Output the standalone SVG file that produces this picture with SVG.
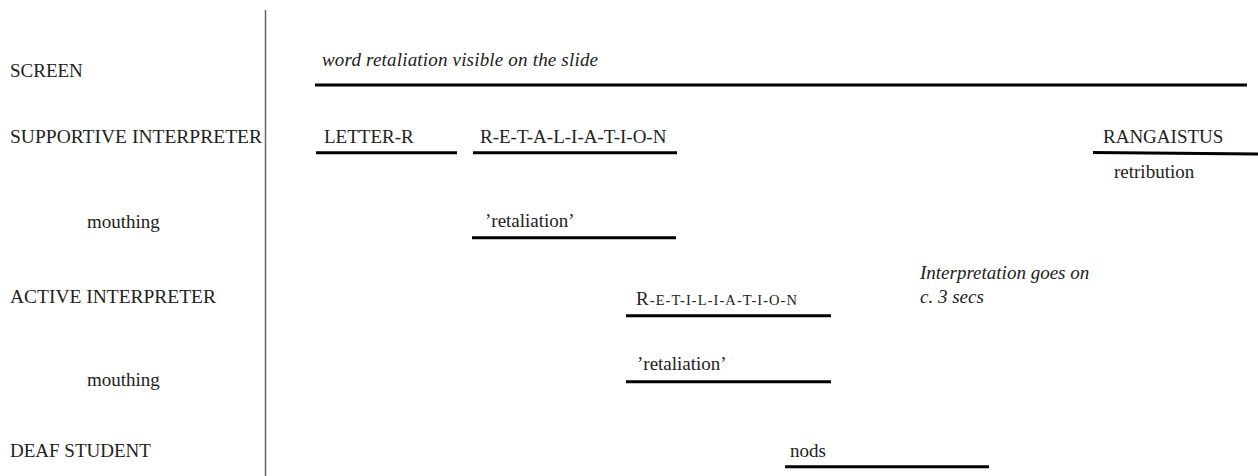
<svg xmlns="http://www.w3.org/2000/svg" width="1258" height="476" viewBox="0 0 1258 476">
<style>
.t{font-family:'Liberation Serif','Times New Roman','DejaVu Serif',serif;font-size:19px;fill:#222;}
.it{font-style:italic;}
.bar{stroke:#000;stroke-width:3;fill:none;}
.divider{stroke:#666;stroke-width:1.5;fill:none;}
</style>
<rect width="1258" height="476" fill="#fff"/>
<line class="divider" x1="265.5" y1="10" x2="265.5" y2="476"/>
<g font-family="Liberation Serif, Times New Roman, serif" font-size="19" fill="#222">
<g id="row-labels">
<text class="t" x="10" y="77">SCREEN</text>
<text class="t" x="10" y="143" textLength="252" lengthAdjust="spacingAndGlyphs">SUPPORTIVE INTERPRETER</text>
<text class="t" x="87" y="228">mouthing</text>
<text class="t" x="10" y="303" textLength="206" lengthAdjust="spacingAndGlyphs">ACTIVE INTERPRETER</text>
<text class="t" x="87" y="386">mouthing</text>
<text class="t" x="10" y="457">DEAF STUDENT</text>
</g>
<g id="screen-word">
<text class="t it" x="322" y="66" textLength="276" lengthAdjust="spacing">word retaliation visible on the slide</text>
</g>
<g id="letter-r"><text class="t" x="324" y="143">LETTER-R</text></g>
<g id="retaliation-spelled"><text class="t" x="480" y="143">R-E-T-A-L-I-A-T-I-O-N</text></g>
<g id="rangaistus"><text class="t" x="1103" y="142.5">RANGAISTUS</text><text class="t" x="1114" y="178">retribution</text></g>
<g id="mouth-supportive"><text class="t" x="485" y="227">’retaliation’</text></g>
<g id="note"><text class="t it" x="920" y="279">Interpretation goes on</text><text class="t it" x="920" y="303">c. 3 secs</text></g>
<g id="retiliation-spelled"><text class="t" x="636" y="305" textLength="161" lengthAdjust="spacing">R<tspan font-size="14.5">-E-T-I-L-I-A-T-I-O-N</tspan></text></g>
<g id="mouth-active"><text class="t" x="637" y="370">’retaliation’</text></g>
<g id="nods"><text class="t" x="790" y="457">nods</text></g>
</g>
<g id="connectors">
<line class="bar" x1="315" y1="85" x2="1247" y2="85"/>
<line class="bar" x1="316" y1="152.7" x2="457" y2="152.7"/>
<line class="bar" x1="473" y1="152.7" x2="677" y2="152.7"/>
<line class="bar" x1="1093" y1="152.5" x2="1258" y2="154"/>
<line class="bar" x1="472" y1="237.7" x2="676" y2="237.7"/>
<line class="bar" x1="626" y1="315.7" x2="831" y2="315.7"/>
<line class="bar" x1="626" y1="381.7" x2="831" y2="381.7"/>
<line class="bar" x1="785" y1="466.7" x2="989" y2="466.7"/>
</g>
</svg>
